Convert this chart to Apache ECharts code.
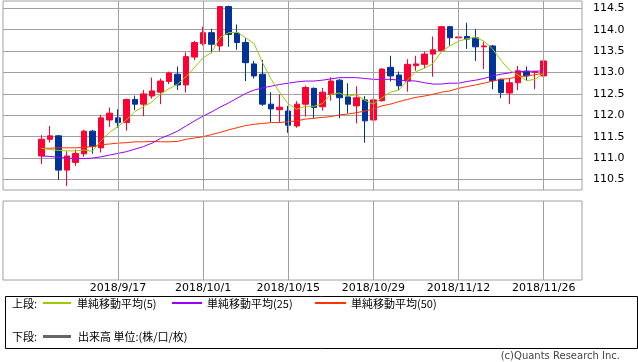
<!DOCTYPE html>
<html>
<head>
<meta charset="utf-8">
<script src="https://cdn.jsdelivr.net/npm/echarts@6/dist/echarts.min.js"></script>
<style>html,body{margin:0;padding:0;background:#fff;}#c{width:638px;height:362px;}</style>
</head>
<body>
<div id="c"></div>
<script>
// ---- data ----
const dates = [
 '2018/9/4','2018/9/5','2018/9/6','2018/9/7',
 '2018/9/10','2018/9/11','2018/9/12','2018/9/13','2018/9/14',
 '2018/9/17','2018/9/18','2018/9/19','2018/9/20','2018/9/21',
 '2018/9/24','2018/9/25','2018/9/26','2018/9/27','2018/9/28',
 '2018/10/1','2018/10/2','2018/10/3','2018/10/4','2018/10/5',
 '2018/10/8','2018/10/9','2018/10/10','2018/10/11','2018/10/12',
 '2018/10/15','2018/10/16','2018/10/17','2018/10/18','2018/10/19',
 '2018/10/22','2018/10/23','2018/10/24','2018/10/25','2018/10/26',
 '2018/10/29','2018/10/30','2018/10/31','2018/11/1','2018/11/2',
 '2018/11/5','2018/11/6','2018/11/7','2018/11/8','2018/11/9',
 '2018/11/12','2018/11/13','2018/11/14','2018/11/15','2018/11/16',
 '2018/11/19','2018/11/20','2018/11/21','2018/11/22','2018/11/23',
 '2018/11/26'
];
const openV  = [111.05,111.44,111.52,110.72,110.90,111.10,111.63,111.24,111.89,111.94,111.83,112.37,112.26,112.45,112.54,112.79,112.96,112.71,113.36,113.67,113.93,113.62,114.54,113.92,113.70,113.20,112.96,112.26,112.13,112.10,111.75,112.26,112.63,112.20,112.49,112.82,112.43,112.22,112.36,111.89,112.34,113.12,112.94,112.80,113.16,113.19,113.43,113.51,114.07,113.81,113.84,113.81,113.60,113.62,112.84,112.52,112.76,113.03,113.00,112.92];
const closeV = [111.44,111.52,110.72,111.05,111.11,111.63,111.27,111.94,112.05,111.83,112.37,112.26,112.50,112.57,112.80,112.99,112.71,113.37,113.70,113.93,113.66,114.54,113.89,113.70,113.23,112.92,112.26,112.15,112.19,111.77,112.26,112.65,112.18,112.54,112.80,112.41,112.26,112.41,111.87,112.36,113.08,112.92,112.69,113.19,113.20,113.43,113.53,114.07,113.81,113.83,113.78,113.60,113.62,112.81,112.53,112.76,113.04,112.92,113.02,113.27];
const lowV   = [110.86,111.36,110.49,110.35,110.82,111.03,111.10,111.13,111.73,111.71,111.64,112.12,111.98,112.39,112.26,112.73,112.59,112.53,113.29,113.63,113.45,113.50,113.60,113.53,112.80,112.86,112.22,111.84,111.84,111.59,111.71,111.97,111.93,112.11,112.34,111.93,112.05,111.81,111.36,111.75,112.32,112.79,112.59,112.55,113.04,113.10,112.90,113.49,113.63,113.66,113.55,113.27,113.08,112.61,112.40,112.26,112.59,112.82,112.61,112.82];
const highV  = [111.54,111.75,111.54,111.16,111.20,111.66,111.66,112.01,112.18,112.14,112.39,112.46,112.59,112.88,112.86,113.02,113.14,113.47,113.74,114.07,114.02,114.55,114.56,114.12,113.80,113.27,113.29,112.54,112.49,112.22,112.33,112.69,112.65,112.64,112.89,112.85,112.75,112.68,112.45,112.43,113.10,113.39,113.02,113.31,113.39,113.49,113.84,114.09,114.09,114.20,114.16,114.01,113.72,113.64,112.86,112.86,113.15,113.14,113.04,113.29];
const ma5  = [111.23,111.20,111.18,111.17,111.17,111.19,111.16,111.40,111.60,111.74,111.89,112.09,112.20,112.31,112.50,112.62,112.73,112.90,113.12,113.34,113.47,113.82,113.93,113.94,113.81,113.67,113.22,112.84,112.53,112.27,112.14,112.21,112.21,112.27,112.49,112.52,112.45,112.48,112.35,112.26,112.41,112.54,112.59,112.82,113.02,113.10,113.21,113.49,113.62,113.73,113.79,113.82,113.73,113.55,113.28,113.05,112.94,112.81,112.84,112.99];
const ma25 = [111.05,111.04,111.02,111.00,110.99,110.99,111.00,111.03,111.07,111.11,111.15,111.21,111.27,111.35,111.46,111.54,111.63,111.75,111.87,111.98,112.08,112.19,112.29,112.40,112.51,112.59,112.64,112.68,112.72,112.75,112.78,112.80,112.80,112.82,112.85,112.88,112.88,112.88,112.86,112.84,112.84,112.84,112.82,112.81,112.80,112.76,112.73,112.73,112.75,112.75,112.79,112.82,112.86,112.92,112.96,112.99,113.02,113.03,113.03,113.04];
const ma50 = [111.23,111.23,111.24,111.24,111.24,111.25,111.27,111.31,111.33,111.35,111.36,111.38,111.38,111.39,111.38,111.38,111.39,111.44,111.47,111.50,111.55,111.60,111.66,111.71,111.76,111.79,111.81,111.83,111.83,111.85,111.87,111.91,111.93,111.95,111.97,112.01,112.03,112.06,112.10,112.15,112.22,112.26,112.32,112.37,112.42,112.45,112.49,112.54,112.57,112.63,112.67,112.71,112.75,112.80,112.84,112.86,112.90,112.92,112.95,112.98];
const dateTicks = ['2018/9/17','2018/10/1','2018/10/15','2018/10/29','2018/11/12','2018/11/26'];
const priceTicks = [110.5,111.0,111.5,112.0,112.5,113.0,113.5,114.0,114.5];
const seriesNames = ['単純移動平均(5)','単純移動平均(25)','単純移動平均(50)'];
const volumeName = '出来高 単位:(株/口/枚)';

// ---- style ----
const MA_COLORS = ['#99cc00', '#9900ff', '#ff3300'];
const VOL_COLOR = '#666666';
const GRID_COLOR = '#a0a0a0';
const numFont = 'DejaVu Sans';
const cjkFont = 'Noto Sans CJK JP';

// ---- layout helpers ----
const PAD = 4;
const padL = Array.from({length: PAD}, (_, i) => 'padL' + i);
const padR = Array.from({length: PAD}, (_, i) => 'padR' + i);
const cats = padL.concat(dates, padR);
const fill = arr => Array(PAD).fill(null).concat(arr, Array(PAD).fill(null));
const ohlc = dates.map((d, i) => [openV[i], closeV[i], lowV[i], highV[i]]);
const candleData = Array(PAD).fill('-').concat(ohlc, Array(PAD).fill('-'));
const empty = cats.map(() => null);

const vLines = {
  silent: true, symbol: ['none', 'none'], label: {show: false},
  lineStyle: {color: GRID_COLOR, type: 'solid', width: 1},
  emphasis: {disabled: true},
  data: dateTicks.map(d => ({xAxis: d}))
};

// legend keys drawn as graphic: [key x, key width, text x, row y, color, thickness, label]
const keys = [
  [43, 28, 77, 302, MA_COLORS[0], 2, seriesNames[0]],
  [172, 30, 207, 302, MA_COLORS[1], 2, seriesNames[1]],
  [315, 31, 351, 302, MA_COLORS[2], 2, seriesNames[2]],
  [43, 28, 78, 335, VOL_COLOR, 3, volumeName]
];
const legendGraphics = [];
keys.forEach(k => {
  legendGraphics.push({type: 'rect', silent: true, z: 10,
    shape: {x: k[0], y: k[3], width: k[1], height: k[5]},
    style: {fill: k[4]}});
  legendGraphics.push({type: 'text', silent: true, x: k[2], y: k[3] + 1.5, z: 10,
    style: {text: k[6], fontSize: 11, fontFamily: cjkFont, fill: '#000', verticalAlign: 'middle', align: 'left'}});
});

const chart = echarts.init(document.getElementById('c'), null, {renderer: 'canvas'});
chart.setOption({
  animation: false,
  backgroundColor: '#fff',
  grid: [
    {left: 3, top: 1, width: 579, height: 189, show: true, borderColor: GRID_COLOR, borderWidth: 1, containLabel: false},
    {left: 3, top: 201, width: 579, height: 79, show: true, borderColor: GRID_COLOR, borderWidth: 1, containLabel: false}
  ],
  xAxis: [
    {type: 'category', gridIndex: 0, data: cats, boundaryGap: true,
     axisLine: {show: false}, axisTick: {show: false}, axisLabel: {show: false}, splitLine: {show: false}},
    {type: 'category', gridIndex: 1, data: cats, boundaryGap: true,
     axisLine: {show: false}, axisTick: {show: false}, splitLine: {show: false},
     axisLabel: {show: true, interval: (idx, val) => dateTicks.indexOf(val) >= 0,
       margin: 3, fontSize: 11, fontFamily: numFont, color: '#000'}}
  ],
  yAxis: [
    {type: 'value', gridIndex: 0, position: 'right', min: 110.255, max: 114.67,
     axisLine: {show: false},
     axisTick: {show: false, customValues: priceTicks},
     splitLine: {show: true, lineStyle: {color: GRID_COLOR, width: 1}},
     axisLabel: {customValues: priceTicks, formatter: v => Number(v).toFixed(1),
       margin: 11, fontSize: 11, fontFamily: numFont, color: '#000'}},
    {type: 'value', gridIndex: 1, position: 'right', min: 0, max: 1,
     axisLine: {show: false}, axisTick: {show: false}, axisLabel: {show: false}, splitLine: {show: false}}
  ],
  graphic: [
    {type: 'rect', left: 3, top: 294, shape: {width: 632, height: 52}, style: {fill: 'none', stroke: '#000', lineWidth: 1}, silent: true},
    {type: 'text', silent: true, x: 12, y: 303.5, style: {text: '上段:', fontSize: 11, fontFamily: cjkFont, fill: '#000', verticalAlign: 'middle'}},
    {type: 'text', silent: true, x: 12, y: 336.5, style: {text: '下段:', fontSize: 11, fontFamily: cjkFont, fill: '#000', verticalAlign: 'middle'}},
    {type: 'text', silent: true, right: 18, top: 351, style: {text: '(c)Quants Research Inc.', fontSize: 10, fontFamily: numFont, fill: '#444'}}
  ].concat(legendGraphics),
  series: [
    {type: 'line', name: 'grid-upper', xAxisIndex: 0, yAxisIndex: 0, data: empty, z: 1, symbol: 'none', markLine: vLines},
    {type: 'bar', name: volumeName, xAxisIndex: 1, yAxisIndex: 1, data: empty, z: 1,
     itemStyle: {color: VOL_COLOR}, markLine: vLines},
    {type: 'candlestick', name: 'price', xAxisIndex: 0, yAxisIndex: 0, data: candleData, barWidth: 6, z: 2,
     itemStyle: {color: '#ff0033', color0: '#003399', borderColor: '#ff0033', borderColor0: '#003399', borderWidth: 1}},
    {type: 'line', name: seriesNames[2], xAxisIndex: 0, yAxisIndex: 0, data: fill(ma50), symbol: 'none', z: 3,
     lineStyle: {color: MA_COLORS[2], width: 1}, itemStyle: {color: MA_COLORS[2]}},
    {type: 'line', name: seriesNames[1], xAxisIndex: 0, yAxisIndex: 0, data: fill(ma25), symbol: 'none', z: 3,
     lineStyle: {color: MA_COLORS[1], width: 1}, itemStyle: {color: MA_COLORS[1]}},
    {type: 'line', name: seriesNames[0], xAxisIndex: 0, yAxisIndex: 0, data: fill(ma5), symbol: 'none', z: 3,
     lineStyle: {color: MA_COLORS[0], width: 1}, itemStyle: {color: MA_COLORS[0]}}
  ]
});
</script>
</body>
</html>
